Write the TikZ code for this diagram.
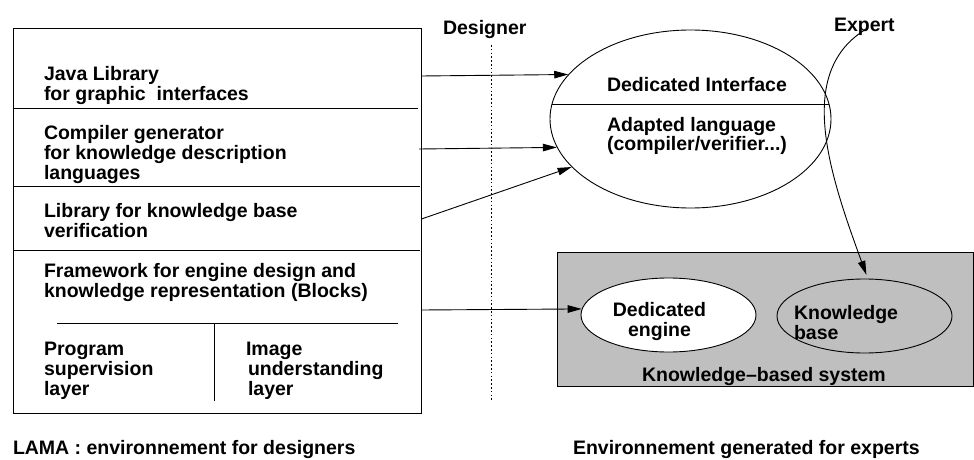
\documentclass[tikz,border=0pt]{standalone}
\usepackage{fontspec}
\setmainfont{Liberation Sans}
\usetikzlibrary{shapes.geometric,arrows.meta}
\definecolor{kbsgray}{HTML}{BFBFBF}
\begin{document}
\begin{tikzpicture}[x=1pt,y=-1pt,
  font=\fontsize{19.5}{20}\selectfont\bfseries,
  line width=0.9pt,
  txt/.style={anchor=north west, inner sep=0pt, outer sep=0pt, align=left},
  ctxt/.style={anchor=north, inner sep=0pt, outer sep=0pt, align=center},
  arr/.style={-{Triangle[length=14pt,width=7.5pt]}},
  dotline/.style={line width=0.8pt, dash pattern=on 1.6pt off 2.2pt}]
\useasboundingbox (0,0) rectangle (974,460);

% ---------- LAMA box ----------
\node[draw, anchor=north west, inner sep=0pt, minimum width=408pt, minimum height=385pt] (lama) at (13,28) {};
\draw (13,108) -- (418,108);
\draw (13,186) -- (420,186);
\draw (13,250) -- (420,250);
\draw (57,323) -- (398,323);
\draw (214,323) -- (214,401);

\node[txt] (t1) at (44,66) {Java Library\\for graphic\ \ interfaces};
\node[txt] (t2) at (44,125) {Compiler generator\\for knowledge description\\languages};
\node[txt] (t3) at (44,203.5) {Library for knowledge base\\verification};
\node[txt] (t4) at (44,263) {Framework for engine design and\\knowledge representation (Blocks)};
\node[txt] (t5) at (44,342) {Program\\supervision\\layer};
\node[txt] (t6) at (246,342) {Image\\\hspace{2pt}understanding\\\hspace{2pt}layer};

\node[txt] (lamalbl) at (13,440.5) {LAMA : environnement for designers};

% ---------- Designer ----------
\node[txt] (designer) at (443,20) {Designer};
\coordinate (dtop) at (491,45);
\coordinate (dbot) at (491,402);
\draw[dotline] (dtop) -- (dbot);

% ---------- Tool ellipse ----------
\node[draw, ellipse, inner sep=0pt, minimum width=281pt, minimum height=178pt] (tool) at (690.5,119) {};
\draw (552,104) -- (829,104);
\node[txt] (di) at (607,77) {Dedicated Interface};
\node[txt] (al) at (607,117) {Adapted language\\[-1pt](compiler/verifier...)};

% ---------- Knowledge-based system ----------
\node[draw, fill=kbsgray, anchor=north west, inner sep=0pt, minimum width=416pt, minimum height=134pt] (kbs) at (557,252) {};
\node[draw, ellipse, fill=white, inner sep=0pt, minimum width=175pt, minimum height=74pt] (engine) at (668.5,315) {};
\node[ctxt] (enginetxt) at (659.5,302) {Dedicated\\engine};
\node[draw, ellipse, inner sep=0pt, minimum width=175pt, minimum height=74pt] (kb) at (864.5,316) {};
\node[txt] (kbtxt) at (794,305) {Knowledge\\base};
\node[txt] (kbslbl) at (642,367) {Knowledge--based system};

\node[txt] (envlbl) at (573,440) {Environnement generated for experts};

% ---------- Expert ----------
\node[txt] (expert) at (834,18) {Expert};
\coordinate (expstart) at (868,28);

% ---------- connectors ----------
\coordinate (a1) at (421,76);
\coordinate (a2) at (419,149);
\coordinate (a3) at (421.5,219);
\coordinate (a4) at (421,310);
\draw[arr] (a1) -- (tool.160.7);
\draw[arr] (a2) -- (tool.192.8);
\draw[arr] (a3) -- (tool.202);
\draw[arr] (a4) -- (engine.176.7);
\draw[arr, shorten >=4pt] (expstart) .. controls (795,70) and (828,170) .. (kb.85);
\end{tikzpicture}
\end{document}
